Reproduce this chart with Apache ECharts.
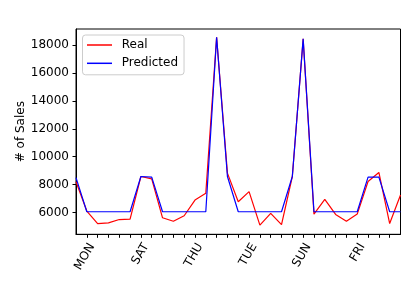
<!DOCTYPE html>
<html>
<head>
<meta charset="utf-8">
<script src="https://cdn.jsdelivr.net/npm/echarts@6/dist/echarts.min.js"></script>
<style>html,body{margin:0;padding:0;background:#fff}#c{width:415px;height:297px}</style>
</head>
<body>
<div id="c"></div>
<script>
const categories = ['SUN','MON','TUE','WED','THU','FRI','SAT','SUN','MON','TUE','WED','THU','FRI','SAT','SUN','MON','TUE','WED','THU','FRI','SAT','SUN','MON','TUE','WED','THU','FRI','SAT','SUN','MON','TUE'];
const realSales = [8200, 6100, 5200, 5250, 5490, 5520, 8580, 8410, 5615, 5370, 5760, 6890, 7370, 18580, 8820, 6770, 7490, 5085, 5930, 5130, 8580, 18460, 5880, 6940, 5855, 5370, 5880, 8220, 8870, 5205, 7250];
const predictedSales = [8500, 6050, 6050, 6050, 6050, 6050, 8580, 8530, 6050, 6050, 6050, 6050, 6050, 18580, 8580, 6050, 6050, 6050, 6050, 6050, 8580, 18460, 6050, 6050, 6050, 6050, 6050, 8530, 8530, 6050, 6050];
const yTicks = [6000, 8000, 10000, 12000, 14000, 16000, 18000];
const seriesNames = ['Real', 'Predicted'];

const FONT = 'DejaVu Sans';
const chart = echarts.init(document.getElementById('c'), null, {renderer: 'canvas'});
chart.setOption({
  animation: false,
  backgroundColor: '#fff',
  grid: {left: 76, right: 14.5, top: 29, bottom: 62.7, show: true, borderColor: '#000', borderWidth: 1, backgroundColor: 'transparent'},
  legend: {
    orient: 'vertical', left: 82.5, top: 35,
    data: seriesNames.map((n) => ({name: n, icon: 'rect'})),
    itemWidth: 25, itemHeight: 1.5, itemGap: 4.3,
    padding: [3, 6, 4.5, 4.5],
    borderColor: '#cccccc', borderWidth: 1, borderRadius: 3, backgroundColor: 'rgba(255,255,255,0.8)',
    textStyle: {fontFamily: FONT, fontSize: 12, color: '#000', lineHeight: 14, padding: [0, 0, 0, 4.7]}
  },
  xAxis: {
    type: 'category', data: categories, boundaryGap: false,
    axisLine: {lineStyle: {color: '#000', width: 1}},
    axisTick: {show: true, length: 3.5, lineStyle: {color: '#000', width: 1}, interval: (i) => i >= 1 && i <= 29},
    axisLabel: {
      interval: (i) => i >= 1 && (i - 1) % 5 === 0 && i <= 29,
      rotate: 60, align: 'right', verticalAlign: 'top', margin: 7,
      fontFamily: FONT, fontSize: 12, color: '#000'
    },
    splitLine: {show: false}
  },
  yAxis: {
    type: 'value', min: 4430, max: 19170,
    name: '# of Sales', nameLocation: 'middle', nameGap: 49, nameMoveOverlap: false,
    nameTextStyle: {fontFamily: FONT, fontSize: 12, color: '#000'},
    axisLine: {show: true, lineStyle: {color: '#000', width: 1}},
    axisTick: {show: true, length: 3.5, lineStyle: {color: '#000', width: 1}, customValues: yTicks},
    axisLabel: {customValues: yTicks, margin: 7, formatter: (v) => String(v), fontFamily: FONT, fontSize: 12, color: '#000'},
    splitLine: {show: false}
  },
  series: [
    {name: seriesNames[0], type: 'line', data: realSales, symbol: 'none', lineStyle: {color: '#ff0000', width: 1.2}, itemStyle: {color: '#ff0000'}},
    {name: seriesNames[1], type: 'line', data: predictedSales, symbol: 'none', lineStyle: {color: '#0000ff', width: 1.2}, itemStyle: {color: '#0000ff'}}
  ]
});
</script>
</body>
</html>
